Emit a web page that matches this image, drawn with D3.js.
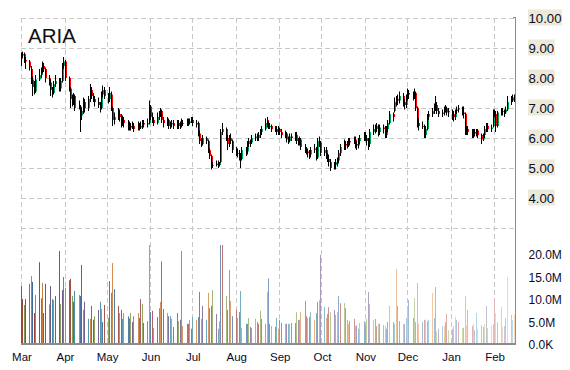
<!DOCTYPE html>
<html><head><meta charset="utf-8">
<script src="https://cdn.jsdelivr.net/npm/d3@7"></script>
<style>body{margin:0;background:#fff}svg{display:block}</style>
</head><body><svg id="c" width="570" height="370"></svg>
<script>
const title = "ARIA";
const startDate = "2011-03-01";
const opens = [
8.70,8.75,8.80,8.60,8.55, 8.30,7.95,7.70,7.55,7.95, 8.10,8.25,8.40,8.30,8.00, 7.85,7.60,7.50,7.80,7.90,
7.65,7.90,8.40,8.55,8.00, 7.65,7.30,7.20,7.40,7.00, 7.05,6.75,6.90,7.20,7.00, 7.30,7.60,7.40,7.30,7.20,
7.10,7.00,7.45,7.60,7.40, 7.30,7.45,7.00,6.60,6.70, 6.80,6.70,6.50,6.60,6.50, 6.40,6.40,6.35,6.40,6.30,
6.40,6.35,6.40,6.50,6.45, 6.50,7.05,6.70,6.60,6.50, 6.70,6.80,6.90,6.60,6.50, 6.60,6.40,6.45,6.50,6.40,
6.50,6.40,6.45,6.50,6.50, 6.55,6.50,6.55,6.60,6.50, 6.50,6.15,5.90,5.80,6.00, 5.90,5.60,5.40,5.10,5.10,
5.15,5.10,5.20,6.20,6.30, 6.00,5.80,6.00,5.90,5.60, 5.50,5.50,5.40,5.30,5.60, 5.55,5.80,5.90,5.85,6.00,
6.05,6.00,6.10,6.20,6.30, 6.60,6.45,6.40,6.40,6.30, 6.30,6.20,6.30,6.20,6.10, 6.15,5.95,5.90,6.05,6.00,
6.10,5.90,5.85,5.95,5.70, 5.60,5.55,5.50,5.45,5.60, 5.65,5.35,5.90,5.85,5.50, 5.60,5.40,5.30,5.20,5.00,
5.10,5.20,5.25,5.50,5.70, 5.80,5.75,5.80,5.90,5.85, 5.95,5.80,5.75,5.90,6.00, 6.10,6.00,5.90,5.80,6.20,
6.30,6.30,6.40,6.20,6.35, 6.30,6.10,6.30,6.50,6.80, 6.90,7.20,7.30,7.25,7.40, 7.20,7.10,7.35,7.50,7.45,
7.40,7.50,7.00,6.50,6.40, 6.40,6.10,6.30,6.70,6.80, 6.90,7.00,7.10,6.90,6.80, 6.85,6.95,7.00,6.85,6.90,
6.80,6.70,6.90,6.95,7.00, 6.85,6.80,6.20,6.30,6.20, 6.10,6.20,6.15,6.25,6.10, 5.95,6.10,6.30,6.40,6.30,
6.40,6.85,6.80,6.40,6.85, 6.90,6.90,6.85,6.95,7.20, 7.25,7.35];
const highs = [
8.85,8.88,8.85,8.70,8.60, 8.40,8.05,7.90,8.10,8.30, 8.35,8.55,8.50,8.35,8.10, 7.95,7.70,7.90,8.10,8.00,
8.00,8.50,8.70,8.60,8.05, 7.70,7.45,7.50,7.45,7.25, 7.10,7.00,7.35,7.30,7.40, 7.80,7.70,7.50,7.40,7.35,
7.20,7.55,7.75,7.70,7.50, 7.70,7.55,7.05,6.85,7.00, 6.95,6.80,6.75,6.70,6.60, 6.55,6.50,6.55,6.50,6.55,
6.50,6.55,6.60,6.60,6.65, 7.25,7.10,6.85,6.70,6.85, 6.90,7.00,6.95,6.70,6.70, 6.65,6.55,6.60,6.60,6.60,
6.60,6.55,6.65,6.60,6.65, 6.65,6.65,6.70,6.70,6.60, 6.55,6.25,6.00,6.10,6.05, 5.95,5.65,5.45,5.20,5.25,
5.25,5.20,6.30,6.50,6.35, 6.10,6.10,6.15,5.95,5.70, 5.65,5.60,5.50,5.70,5.70, 5.90,6.00,5.95,6.10,6.15,
6.15,6.20,6.30,6.40,6.65, 6.70,6.55,6.50,6.45,6.40, 6.40,6.40,6.35,6.30,6.25, 6.20,6.05,6.15,6.15,6.20,
6.20,6.00,6.05,6.00,5.80, 5.70,5.65,5.60,5.70,5.80, 5.70,6.00,6.05,5.90,5.70, 5.70,5.50,5.45,5.30,5.20,
5.30,5.35,5.60,5.80,5.95, 5.90,5.90,6.00,6.00,6.05, 6.05,5.90,6.00,6.10,6.20, 6.20,6.10,6.00,6.30,6.45,
6.45,6.50,6.45,6.45,6.45, 6.40,6.40,6.60,6.90,6.85, 7.35,7.40,7.45,7.55,7.50, 7.30,7.45,7.65,7.60,7.55,
7.65,7.55,7.05,6.65,6.55, 6.45,6.40,6.80,6.90,7.00, 7.15,7.40,7.20,7.00,6.95, 7.05,7.10,7.05,7.00,6.95,
6.90,6.95,7.05,7.10,7.05, 7.05,6.85,6.40,6.40,6.30, 6.30,6.30,6.30,6.30,6.15, 6.15,6.40,6.50,6.50,6.45,
6.95,6.95,6.90,6.90,7.00, 7.00,6.95,7.05,7.40,7.40, 7.45,7.45];
const lows = [
8.40,8.65,8.50,8.30,8.25, 7.80,7.40,7.45,7.50,7.90, 8.00,8.15,8.20,7.85,7.75, 7.40,7.35,7.45,7.70,7.55,
7.55,7.85,8.30,7.90,7.55, 7.00,7.05,7.10,6.90,6.95, 6.20,6.60,6.80,6.85,6.90, 7.20,7.30,7.20,7.05,7.00,
6.85,6.95,7.35,7.30,7.15, 7.20,6.90,6.40,6.45,6.60, 6.55,6.35,6.40,6.35,6.25, 6.25,6.25,6.30,6.20,6.25,
6.25,6.30,6.30,6.35,6.35, 6.45,6.60,6.50,6.40,6.45, 6.60,6.70,6.50,6.35,6.40, 6.30,6.30,6.35,6.30,6.30,
6.30,6.30,6.35,6.40,6.40, 6.40,6.45,6.50,6.40,6.35, 6.05,5.80,5.70,5.75,5.80, 5.50,5.30,4.95,5.00,5.05,
5.00,5.05,5.15,6.10,5.90, 5.60,5.70,5.80,5.50,5.40, 5.35,5.25,5.00,5.25,5.40, 5.45,5.70,5.70,5.80,5.90,
5.90,5.90,6.00,6.10,6.25, 6.35,6.30,6.30,6.20,6.20, 6.10,6.10,6.10,6.00,6.00, 5.85,5.80,5.85,5.90,5.90,
5.80,5.75,5.75,5.60,5.50, 5.45,5.35,5.30,5.35,5.50, 5.25,5.30,5.70,5.40,5.40, 5.30,5.20,5.05,4.90,4.95,
4.95,5.05,5.15,5.40,5.60, 5.60,5.65,5.70,5.75,5.80, 5.65,5.60,5.65,5.80,5.90, 5.90,5.75,5.60,5.70,6.10,
6.15,6.20,6.05,6.10,6.15, 6.00,6.00,6.20,6.45,6.55, 6.85,7.05,7.10,7.15,7.05, 6.95,7.00,7.25,7.30,7.25,
7.30,6.90,6.35,6.25,6.30, 6.00,6.00,6.25,6.60,6.70, 6.80,6.90,6.80,6.70,6.70, 6.75,6.85,6.75,6.70,6.60,
6.55,6.60,6.80,6.85,6.75, 6.65,6.10,6.10,6.10,6.00, 6.00,6.05,6.05,6.00,5.80, 5.90,6.00,6.20,6.20,6.20,
6.35,6.70,6.20,6.35,6.75, 6.75,6.70,6.80,6.90,7.10, 7.20,7.20];
const closes = [
8.75,8.80,8.60,8.55,8.35, 8.00,7.70,7.55,7.95,8.10, 8.25,8.40,8.30,8.00,7.90, 7.60,7.50,7.80,7.90,7.65,
7.90,8.40,8.55,8.00,7.70, 7.30,7.20,7.40,7.00,7.10, 6.75,6.90,7.20,7.00,7.30, 7.60,7.40,7.30,7.20,7.10,
7.00,7.45,7.60,7.40,7.30, 7.50,7.00,6.60,6.70,6.80, 6.70,6.50,6.60,6.50,6.40, 6.40,6.35,6.40,6.30,6.40,
6.35,6.40,6.50,6.45,6.50, 7.05,6.70,6.60,6.50,6.70, 6.80,6.90,6.60,6.50,6.60, 6.40,6.45,6.50,6.40,6.50,
6.40,6.45,6.50,6.50,6.55, 6.50,6.55,6.60,6.50,6.45, 6.15,5.90,5.80,6.00,5.90, 5.60,5.40,5.10,5.10,5.15,
5.10,5.15,6.20,6.30,6.00, 5.80,6.00,5.90,5.60,5.50, 5.50,5.40,5.30,5.60,5.55, 5.80,5.90,5.85,6.00,6.05,
6.00,6.10,6.20,6.30,6.50, 6.45,6.40,6.40,6.30,6.30, 6.20,6.30,6.20,6.10,6.15, 5.95,5.90,6.05,6.00,6.10,
5.90,5.85,5.95,5.70,5.60, 5.55,5.50,5.45,5.60,5.65, 5.35,5.90,5.85,5.50,5.60, 5.40,5.30,5.20,5.00,5.10,
5.20,5.25,5.50,5.70,5.80, 5.75,5.80,5.90,5.85,5.95, 5.80,5.75,5.90,6.00,6.10, 6.00,5.90,5.80,6.20,6.30,
6.30,6.40,6.20,6.35,6.30, 6.10,6.30,6.50,6.80,6.70, 7.20,7.30,7.25,7.40,7.20, 7.10,7.35,7.50,7.45,7.40,
7.50,7.00,6.50,6.40,6.40, 6.10,6.30,6.70,6.80,6.90, 7.00,7.10,6.90,6.80,6.85, 6.95,7.00,6.85,6.90,6.80,
6.70,6.90,6.95,7.00,6.85, 6.80,6.20,6.30,6.20,6.10, 6.20,6.15,6.25,6.10,5.95, 6.10,6.30,6.40,6.30,6.35,
6.85,6.80,6.40,6.85,6.90, 6.90,6.85,6.95,7.20,7.25, 7.35,7.30];
const volumesM = [
13.1,10.2,8.9,10.2,13.6, 15.3,14.0,7.1,11.1,18.4, 10.4,13.8,7.1,13.6,9.0, 13.1,10.2,10.0,10.9,20.9,
9.1,12.2,15.1,12.7,14.4, 14.7,10.9,9.6,12.0,11.1, 10.9,17.8,7.8,9.6,5.8, 5.8,8.7,5.6,6.4,7.8,
9.6,8.0,5.1,8.9,6.0, 14.2,11.6,18.2,12.4,8.7, 7.1,7.8,5.8,7.1,6.4, 5.9,7.1,5.1,6.4,7.1,
6.0,10.2,9.1,4.9,5.3, 22.2,7.3,7.6,3.8,6.2, 8.2,9.6,18.6,8.0,7.1, 6.4,6.4,5.8,4.0,7.1,
5.3,5.6,20.9,4.2,4.7, 4.7,5.6,3.6,6.2,5.6, 6.2,11.8,5.8,8.7,5.6, 11.6,8.2,8.7,12.2,6.9,
3.6,5.3,22.2,22.2,10.9, 7.8,16.7,9.8,6.4,7.8, 6.0,7.3,12.0,3.8,4.7, 4.7,6.0,4.0,3.8,5.8,
5.1,4.7,7.6,5.8,4.7, 11.8,14.8,4.7,4.2,4.0, 6.0,3.6,5.6,4.9,4.7, 4.7,4.7,4.7,4.9,4.9,
7.3,5.6,5.6,7.3,9.8, 6.4,6.0,6.2,7.3,5.6, 7.1,9.6,10.0,20.0,8.4, 6.0,6.9,8.4,7.3,7.8,
6.7,7.3,10.9,9.3,9.3, 8.2,5.6,4.7,5.3,5.8, 4.2,4.4,3.6,4.9,5.3, 4.4,5.8,11.8,9.1,5.6,
5.8,4.2,4.7,4.7,4.4, 4.2,3.6,5.1,8.7,5.1, 4.7,16.9,8.7,5.3,4.7, 4.7,6.0,8.0,10.0,6.0,
10.4,5.1,13.8,4.7,5.1, 5.6,5.6,5.3,5.6,11.6, 6.0,12.9,3.0,3.6,4.2, 4.2,5.1,6.9,3.3,3.6,
4.2,6.2,5.6,5.1,3.8, 3.8,10.9,4.4,7.8,4.2, 4.7,3.3,7.1,3.6,4.4, 4.0,4.7,8.7,3.8,4.4,
4.7,10.4,7.1,5.1,8.4, 4.0,4.2,6.0,15.1,6.7, 5.5,6.7];
const priceGrid = [3,4,5,6,7,8,9,10];
const priceTicks = [4,5,6,7,8,9,10];
const priceTickLabels = ["4.00","5.00","6.00","7.00","8.00","9.00","10.00"];
const volTicks = [0,5,10,15,20];
const volTickLabels = ["0.0K","5.0M","10.0M","15.0M","20.0M"];
const volPalette = ["#4F81BD","#C0504D","#9BBB59","#8064A2","#4BACC6","#F79646"];

// trading days (weekdays) starting at startDate
const dates = [];
let dd = d3.timeParse("%Y-%m-%d")(startDate);
while (dates.length < closes.length) {
  if (dd.getDay() !== 0 && dd.getDay() !== 6) dates.push(dd);
  dd = d3.timeDay.offset(dd, 1);
}
const n = closes.length;
const svg = d3.select("#c");
const x = d3.scaleTime().domain([dates[0], dates[n-1]]).range([21, 513.7]);
const y = d3.scaleLinear().domain([3, 10]).range([228, 18]);
const yv = d3.scaleLinear().domain([0, 20]).range([345, 255]);
const X0 = 21, X1 = 515;

// grid
const g = svg.append("g");
g.selectAll(".hg").data(priceGrid).join("line")
  .attr("x1", X0).attr("x2", X1).attr("y1", d => Math.round(y(d)) + 0.5).attr("y2", d => Math.round(y(d)) + 0.5)
  .attr("stroke", "#c8c8c8").attr("stroke-dasharray", "5,3");
const months = d3.timeMonth.range(dates[0], d3.timeDay.offset(dates[n-1], 1));
g.selectAll(".vg").data(months).join("line")
  .attr("x1", d => Math.round(x(d)) + 0.5).attr("x2", d => Math.round(x(d)) + 0.5)
  .attr("y1", 18).attr("y2", 344)
  .attr("stroke", "#c8c8c8").attr("stroke-dasharray", "5,3");

// volume bars
const nonWhite = (c, t) => {
  const dark = d3.color(c).darker(0.6);
  const pale = d3.interpolateRgb(c, "#ffffff")(0.62);
  return d3.interpolateRgb(dark, pale)(t);
};
svg.append("g").selectAll("rect").data(volumesM).join("rect")
  .attr("x", (d, i) => Math.round(x(dates[i])))
  .attr("width", 1)
  .attr("y", d => yv(d))
  .attr("height", d => 344 - yv(d))
  .attr("fill", (d, i) => nonWhite(volPalette[i % volPalette.length], i / (n - 1)));

// candles
const cg = svg.append("g");
for (let i = 0; i < n; i++) {
  const cx = Math.round(x(dates[i]));
  const o = opens[i], c = closes[i];
  cg.append("line").attr("x1", cx + 0.5).attr("x2", cx + 0.5)
    .attr("y1", y(highs[i])).attr("y2", y(lows[i]))
    .attr("stroke", "#000").attr("stroke-width", 1);
  const top = y(Math.max(o, c)), bot = y(Math.min(o, c));
  cg.append("rect").attr("x", cx + 1).attr("width", 1)
    .attr("y", top).attr("height", Math.max(1, bot - top))
    .attr("fill", c >= o ? "#00a651" : "#ff0000");
}

// axes lines
svg.append("line").attr("x1", X1 + 0.5).attr("x2", X1 + 0.5).attr("y1", 17).attr("y2", 345)
  .attr("stroke", "#8c8c8c");
svg.append("line").attr("x1", X1 - 2).attr("x2", X1 + 0.5).attr("y1", 17.5).attr("y2", 17.5)
  .attr("stroke", "#8c8c8c");
svg.append("line").attr("x1", X0).attr("x2", X1 + 1).attr("y1", 344).attr("y2", 344)
  .attr("stroke", "#8c8c8c").attr("stroke-width", 2);

// month labels
svg.append("g").selectAll("text").data(months).join("text")
  .attr("x", d => x(d) + 1).attr("y", 361)
  .attr("text-anchor", "middle")
  .attr("font-family", "Liberation Sans, Arial, sans-serif").attr("font-size", 11.5)
  .attr("fill", "#0a0a2a")
  .text(d3.timeFormat("%b"));

// price labels
const pl = svg.append("g");
priceTicks.forEach((p, i) => {
  const t = pl.append("text").attr("x", 528.5).attr("y", y(p) + 4.7)
    .attr("font-family", "Liberation Sans, Arial, sans-serif").attr("font-size", 13.2)
    .attr("fill", "#0a0a2a").text(priceTickLabels[i]);
  const bb = t.node().getBBox();
  pl.insert("rect", "text").attr("x", 528).attr("y", y(p) - 8.5)
    .attr("width", bb.width + 1).attr("height", 16).attr("fill", "#ece9d8");
});

// volume labels
svg.append("g").selectAll("text").data(volTicks).join("text")
  .attr("x", 528.5).attr("y", d => yv(d) + 4.3)
  .attr("font-family", "Liberation Sans, Arial, sans-serif").attr("font-size", 12)
  .attr("fill", "#0a0a2a")
  .text((d, i) => volTickLabels[i]);

// title
svg.append("text").attr("x", 28).attr("y", 42.5)
  .attr("font-family", "Liberation Sans, Arial, sans-serif").attr("font-size", 20.5)
  .attr("fill", "#111").text(title);
</script>
</body></html>
